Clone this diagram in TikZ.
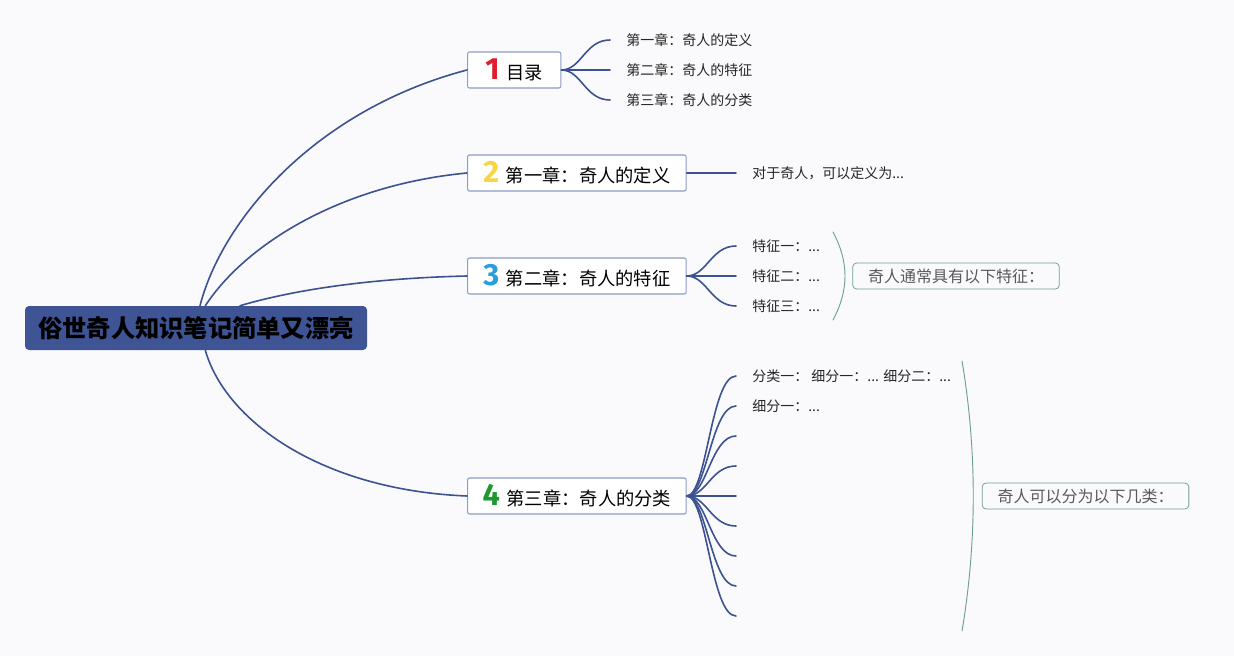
\documentclass[tikz,border=0pt]{standalone}
\usepackage{fontspec}
\setmainfont{Noto Sans CJK SC}
\newfontfamily\numfont{Fira Sans}
\usetikzlibrary{positioning}

\definecolor{rootblue}{RGB}{63,84,148}
\definecolor{linkblue}{RGB}{61,82,144}
\definecolor{boxgray}{RGB}{142,156,196}
\definecolor{sumgreen}{RGB}{111,160,142}
\definecolor{numred}{RGB}{222,30,45}
\definecolor{numyellow}{RGB}{246,214,72}
\definecolor{numblue}{RGB}{40,158,220}
\definecolor{numgreen}{RGB}{30,152,48}
\definecolor{bggray}{RGB}{250,250,252}

% coloured chapter number in front of a chapter title
\newcommand{\chnum}[2]{{\numfont\fontsize{23}{23}\selectfont\bfseries\color{#1}#2}\hspace{5pt}}

\begin{document}
\begin{tikzpicture}[line cap=round,line join=round,x=0.75pt,y=-0.75pt,
  rootbox/.style={fill=rootblue,rounded corners=3pt,minimum width=256.5pt,minimum height=33pt,inner sep=0pt,font=\fontsize{18.2}{20}\selectfont\bfseries},
  chapbox/.style={draw=boxgray,line width=0.8pt,fill=white,rounded corners=1.5pt,anchor=west,minimum height=27pt,inner sep=0pt,font=\fontsize{13.7}{15}\selectfont},
  leaf/.style={anchor=west,inner sep=0pt,inner xsep=12pt,font=\fontsize{10.5}{12}\selectfont,text=black!85},
  sumbox/.style={draw=sumgreen,line width=0.6pt,rounded corners=3pt,minimum width=155pt,minimum height=19.5pt,inner sep=0pt,text=black!65,font=\fontsize{12}{13}\selectfont},
  link/.style={draw=linkblue,line width=1.2pt},
  brace/.style={draw=sumgreen,line width=0.7pt}]
\useasboundingbox (0,0) rectangle (1234,656);
\fill[bggray] (0,0) rectangle (1234,656);
%\draw[help lines] (0,0) grid[step=50] (1234,656);

% root and chapters
\node[rootbox] (root) at (196,328) {俗世奇人知识笔记简单又漂亮};
\node[chapbox,minimum width=70pt] (toc) at (467,70) {\chnum{numred}{1}目录};
\node[chapbox,minimum width=164pt] (def) at (467,173) {\chnum{numyellow}{2}第一章：奇人的定义};
\node[chapbox,minimum width=164pt] (feat) at (467,276) {\chnum{numblue}{3}第二章：奇人的特征};
\node[chapbox,minimum width=164pt] (kind) at (467,496) {\chnum{numgreen}{4}第三章：奇人的分类};

\draw[link] ([xshift=3pt]root.north) .. controls (222,220) and (315,110) .. (toc.west);
\draw[link] ([xshift=7pt]root.north) .. controls (245,245) and (340,185) .. (def.west);
\draw[link] ([xshift=33pt]root.north) .. controls (300,288) and (380,278) .. (feat.west);
\draw[link] ([xshift=7pt]root.south) .. controls (225,420) and (320,490) .. (kind.west);

% 1 contents
\node[leaf] (toc1) at (610,40) {第一章：奇人的定义};
\node[leaf] (toc2) at (610,70) {第二章：奇人的特征};
\node[leaf] (toc3) at (610,100) {第三章：奇人的分类};
\draw[link] (toc.east) .. controls +(20,0) and +(-25,0) .. (toc1.west);
\draw[link] (toc.east) -- (toc2.west);
\draw[link] (toc.east) .. controls +(20,0) and +(-25,0) .. (toc3.west);

% 2 definition
\node[leaf] (def1) at (736,173) {对于奇人，可以定义为...};
\draw[link] (def.east) -- (def1.west);

% 3 features
\node[leaf] (feat1) at (736,246) {特征一：...};
\node[leaf] (feat2) at (736,276) {特征二：...};
\node[leaf] (feat3) at (736,306) {特征三：...};
\draw[link] (feat.east) .. controls +(20,0) and +(-25,0) .. (feat1.west);
\draw[link] (feat.east) -- (feat2.west);
\draw[link] (feat.east) .. controls +(20,0) and +(-25,0) .. (feat3.west);
\coordinate (feattop) at (833,232);
\coordinate (featbot) at (833,320);
\draw[brace] (feattop) .. controls (849,262) and (849,290) .. (featbot);
\node[sumbox] (featsum) at (956,276) {奇人通常具有以下特征：};

% 4 kinds
\node[leaf] (kind1) at (736,376) {分类一： 细分一：... 细分二：...};
\node[leaf] (kind2) at (736,406) {细分一：...};
\node[leaf] (kind3) at (736,436) {};
\node[leaf] (kind4) at (736,466) {};
\node[leaf] (kind5) at (736,496) {};
\node[leaf] (kind6) at (736,526) {};
\node[leaf] (kind7) at (736,556) {};
\node[leaf] (kind8) at (736,586) {};
\node[leaf] (kind9) at (736,616) {};
\draw[link] (kind.east) .. controls +(20,0) and +(-25,0) .. (kind1.west);
\draw[link] (kind.east) .. controls +(20,0) and +(-25,0) .. (kind2.west);
\draw[link] (kind.east) .. controls +(20,0) and +(-25,0) .. (kind3.west);
\draw[link] (kind.east) .. controls +(20,0) and +(-25,0) .. (kind4.west);
\draw[link] (kind.east) -- (kind5.west);
\draw[link] (kind.east) .. controls +(20,0) and +(-25,0) .. (kind6.west);
\draw[link] (kind.east) .. controls +(20,0) and +(-25,0) .. (kind7.west);
\draw[link] (kind.east) .. controls +(20,0) and +(-25,0) .. (kind8.west);
\draw[link] (kind.east) .. controls +(20,0) and +(-25,0) .. (kind9.west);
\coordinate (kindtop) at (962,361);
\coordinate (kindbot) at (962,631);
\draw[brace] (kindtop) .. controls (977,450) and (977,542) .. (kindbot);
\node[sumbox] (kindsum) at (1085.5,496) {奇人可以分为以下几类：};
\end{tikzpicture}
\end{document}
